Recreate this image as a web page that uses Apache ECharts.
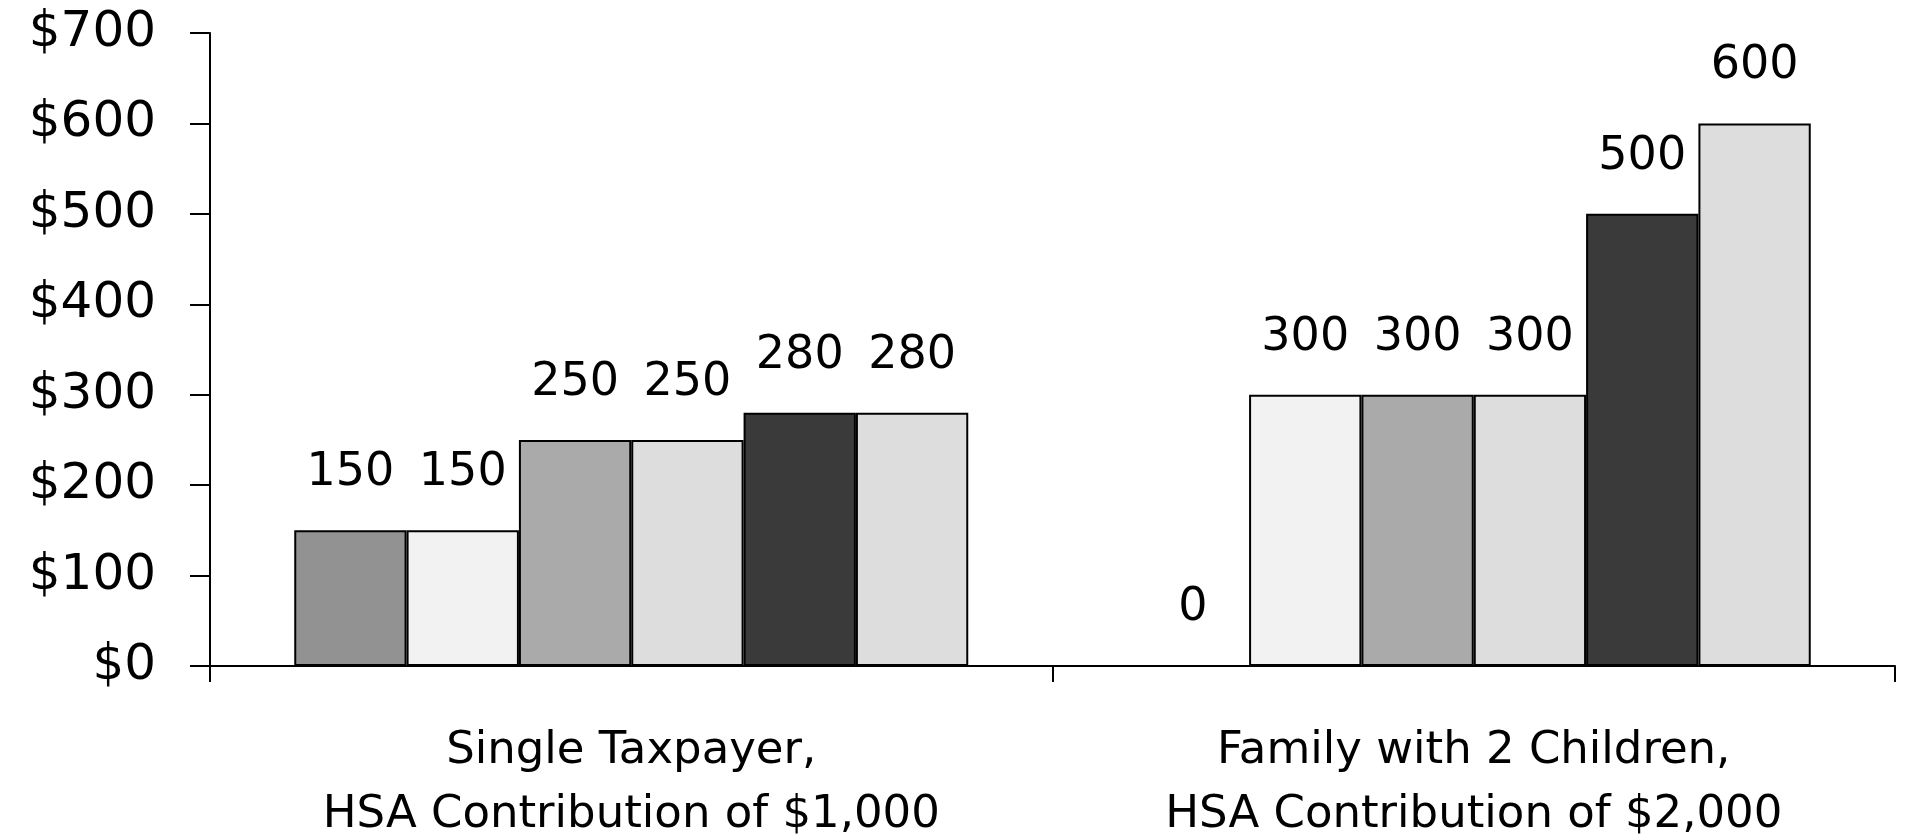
<!DOCTYPE html>
<html>
<head>
<meta charset="utf-8">
<title>HSA tax savings</title>
<script src="https://cdn.jsdelivr.net/npm/echarts@6/dist/echarts.min.js"></script>
<style>
  html, body { margin: 0; padding: 0; background: #fff; }
  #chart { width: 1905px; height: 834px; }
</style>
</head>
<body>
<div id="chart"></div>
<script>
// categories along the x axis
const categories = [
  'Single Taxpayer,\nHSA Contribution of $1,000',
  'Family with 2 Children,\nHSA Contribution of $2,000'
]

// one array per bar position inside each group
const series1 = [150, 0]
const series2 = [150, 300]
const series3 = [250, 300]
const series4 = [250, 300]
const series5 = [280, 500]
const series6 = [280, 600]

const seriesValues = [series1, series2, series3, series4, series5, series6]
const barColors = ['#929292', '#f2f2f2', '#aaaaaa', '#dddddd', '#3a3a3a', '#dddddd']

const fontFamily = '"DejaVu Sans", sans-serif'

const chart = echarts.init(document.getElementById('chart'), null, { renderer: 'canvas' })

chart.setOption({
  animation: false,
  grid: {
    left: 210,
    right: 10,
    top: 33,
    bottom: 168,
    // keep the plot where it is, labels may sit in the margin
    outerBoundsMode: 'none'
  },
  xAxis: {
    type: 'category',
    data: categories,
    axisLine: { lineStyle: { color: '#000', width: 2 } },
    axisTick: {
      show: true,
      length: 16,
      lineStyle: { color: '#000', width: 2 }
    },
    axisLabel: {
      color: '#000',
      fontFamily: fontFamily,
      fontSize: 45,
      lineHeight: 64,
      margin: 53
    }
  },
  yAxis: {
    type: 'value',
    min: 0,
    max: 700,
    interval: 100,
    splitLine: { show: false },
    axisLine: { show: true, lineStyle: { color: '#000', width: 2 } },
    axisTick: {
      show: true,
      length: 20,
      lineStyle: { color: '#000', width: 2 }
    },
    axisLabel: {
      color: '#000',
      fontFamily: fontFamily,
      fontSize: 50,
      margin: 54,
      formatter: v => '$' + v
    }
  },
  series: seriesValues.map((vals, i) => ({
    name: 'Series ' + (i + 1),
    type: 'bar',
    data: vals,
    barGap: '0%',
    barCategoryGap: '20%',
    itemStyle: {
      color: barColors[i],
      borderColor: '#000',
      borderWidth: 2
    },
    label: {
      show: true,
      position: 'top',
      distance: 34,
      color: '#000',
      fontFamily: fontFamily,
      fontSize: 46,
      lineHeight: 46
    }
  }))
})
</script>
</body>
</html>
